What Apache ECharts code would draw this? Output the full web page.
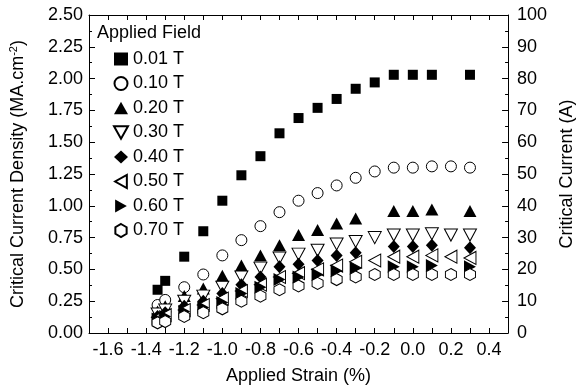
<!DOCTYPE html>
<html lang="en">
<head>
	<meta charset="UTF-8">
	<title></title>
	<style>
		body { margin: 0; background: #fff; }
	</style>
</head>
<body>
	<div id="chart" style="width:584px;height:392px;"></div>
<script src="https://cdn.jsdelivr.net/npm/echarts@6/dist/echarts.min.js"></script>
<script>
// applied strain (%)
var strain = [-1.34, -1.30, -1.20, -1.10, -1.00, -0.90, -0.80, -0.70, -0.60, -0.50, -0.40, -0.30, -0.20, -0.10, 0.00, 0.10, 0.20, 0.30];

// critical current density (MA.cm-2), one list per applied field, null = not measured
var jc001 = [0.34, 0.41, 0.60, 0.80, 1.04, 1.24, 1.39, 1.57, 1.69, 1.77, 1.84, 1.92, 1.97, 2.03, 2.03, 2.03, null, 2.03];
var jc010 = [0.22, 0.26, 0.36, 0.46, 0.61, 0.73, 0.84, 0.95, 1.04, 1.10, 1.16, 1.22, 1.27, 1.30, 1.30, 1.31, 1.31, 1.30];
var jc020 = [0.17, 0.21, 0.29, 0.35, 0.45, 0.53, 0.61, 0.69, 0.77, 0.81, 0.86, 0.90, null, 0.96, 0.96, 0.97, null, 0.96];
var jc030 = [0.15, 0.18, 0.25, 0.29, 0.36, 0.44, 0.51, 0.59, 0.62, 0.65, 0.70, 0.72, 0.75, 0.77, 0.77, 0.78, 0.77, 0.77];
var jc040 = [0.13, 0.16, 0.21, 0.25, 0.31, 0.38, 0.44, 0.52, 0.54, 0.57, 0.61, 0.63, null, 0.68, 0.68, 0.69, null, 0.67];
var jc050 = [0.12, 0.14, 0.18, 0.22, 0.27, 0.33, 0.38, 0.44, 0.47, 0.50, 0.53, 0.56, 0.57, 0.60, 0.60, 0.61, 0.60, 0.59];
var jc060 = [0.11, 0.13, 0.17, 0.20, 0.24, 0.31, 0.36, 0.42, 0.44, 0.46, 0.49, 0.51, null, 0.52, 0.52, 0.53, null, 0.52];
var jc070 = [0.08, 0.09, 0.13, 0.16, 0.19, 0.25, 0.29, 0.34, 0.37, 0.39, 0.42, 0.44, 0.46, 0.46, 0.46, 0.46, 0.46, 0.46];

var fieldNames = ['0.01 T', '0.10 T', '0.20 T', '0.30 T', '0.40 T', '0.50 T', '0.60 T', '0.70 T'];
var fieldData = [jc001, jc010, jc020, jc030, jc040, jc050, jc060, jc070];

var FONT = '"Liberation Sans", Arial, Helvetica, sans-serif';

// marker look per field: symbol, size, filled?
var marks = [
  {symbol: 'rect', size: 10, fill: true},
  {symbol: 'circle', size: 11, fill: false},
  {symbol: 'path://M5,0 L10,9 L0,9 Z', size: [13, 12], fill: true},
  {symbol: 'path://M0,0 L10,0 L5,9 Z', size: [13, 12], fill: false},
  {symbol: 'diamond', size: [12, 13], fill: true},
  {symbol: 'path://M9,0 L9,10 L0,5 Z', size: [12, 13], fill: false},
  {symbol: 'path://M0,0 L0,10 L9,5 Z', size: [12, 13], fill: true},
  {symbol: 'path://M5,0 L9.33,2.5 L9.33,7.5 L5,10 L0.67,7.5 L0.67,2.5 Z', size: [11, 12], fill: false}
];

function pairs(ys){
  var out = [];
  for (var i = 0; i < strain.length; i++) {
    if (ys[i] != null) out.push([strain[i], ys[i]]);
  }
  return out;
}

var series = [];
for (var k = 0; k < fieldNames.length; k++) {
  var m = marks[k];
  series.push({
    name: fieldNames[k],
    type: 'scatter',
    symbol: m.symbol,
    symbolSize: m.size,
    itemStyle: {
      color: m.fill ? '#000' : '#fff',
      borderColor: '#000',
      borderWidth: m.fill ? 0 : 1,
      opacity: 1
    },
    emphasis: {disabled: true},
    data: pairs(fieldData[k])
  });
}

var FS = 18;
var axisTxt = {color: '#000', fontSize: FS, fontFamily: FONT};
var axLine = {onZero: false, lineStyle: {color: '#000', width: 1}};

function xFmt(v){
  var t = Math.round(v * 10);
  return (t % 2 === 0) ? (t / 10).toFixed(1) : '';
}

var chart = echarts.init(document.getElementById('chart'));
var option = {
  animation: false,
  textStyle: {fontFamily: FONT},
  title: {
    text: 'Applied Field',
    left: 97, top: 24, padding: 0,
    textStyle: {color: '#000', fontSize: FS, fontWeight: 'normal', fontFamily: FONT}
  },
  legend: {
    data: fieldNames,
    orient: 'vertical',
    left: 113, top: 50,
    padding: 0,
    itemWidth: 14, itemHeight: 13,
    itemGap: 6.5,
    textStyle: {color: '#000', fontSize: FS, lineHeight: 18, fontFamily: FONT}
  },
  grid: {left: 89, right: 60, top: 15, bottom: 59},
  xAxis: [
    {
      type: 'value', position: 'bottom',
      min: -1.7, max: 0.5, interval: 0.1,
      name: 'Applied Strain (%)', nameLocation: 'middle', nameGap: 34,
      nameTextStyle: axisTxt,
      axisLine: axLine,
      axisTick: {inside: true, length: 5, lineStyle: {color: '#000'}},
      axisLabel: {color: '#000', fontSize: FS, fontFamily: FONT, margin: 8, formatter: xFmt},
      splitLine: {show: false}
    },
    {
      type: 'value', position: 'top',
      min: -1.7, max: 0.5, interval: 0.1,
      axisLine: axLine,
      axisTick: {inside: true, length: 5, lineStyle: {color: '#000'}},
      axisLabel: {show: false},
      splitLine: {show: false}
    }
  ],
  yAxis: [
    {
      type: 'value', position: 'left',
      min: 0, max: 2.5, interval: 0.25,
      name: 'Critical Current Density (MA.cm{sup|-2})',
      nameLocation: 'middle', nameGap: 60,
      nameTextStyle: {
        color: '#000', fontSize: FS, fontFamily: FONT, lineHeight: 21,
        rich: {sup: {fontSize: 11, fontFamily: FONT, color: '#000', verticalAlign: 'top', lineHeight: 11}}
      },
      axisLine: axLine,
      axisTick: {inside: true, length: 6, lineStyle: {color: '#000'}},
      minorTick: {show: true, splitNumber: 2, length: 3, lineStyle: {color: '#000'}},
      axisLabel: {color: '#000', fontSize: FS, fontFamily: FONT, margin: 6,
        formatter: function(v){ return v.toFixed(2); }},
      splitLine: {show: false}
    },
    {
      type: 'value', position: 'right',
      min: 0, max: 100, interval: 10,
      name: 'Critical Current (A)',
      nameLocation: 'middle', nameGap: 41, nameRotate: 90,
      nameTextStyle: axisTxt,
      axisLine: axLine,
      axisTick: {inside: true, length: 6, lineStyle: {color: '#000'}},
      minorTick: {show: true, splitNumber: 2, length: 3, lineStyle: {color: '#000'}},
      axisLabel: {color: '#000', fontSize: FS, fontFamily: FONT, margin: 9},
      splitLine: {show: false}
    }
  ],
  series: series
};
chart.setOption(option);
</script>
</body>
</html>
